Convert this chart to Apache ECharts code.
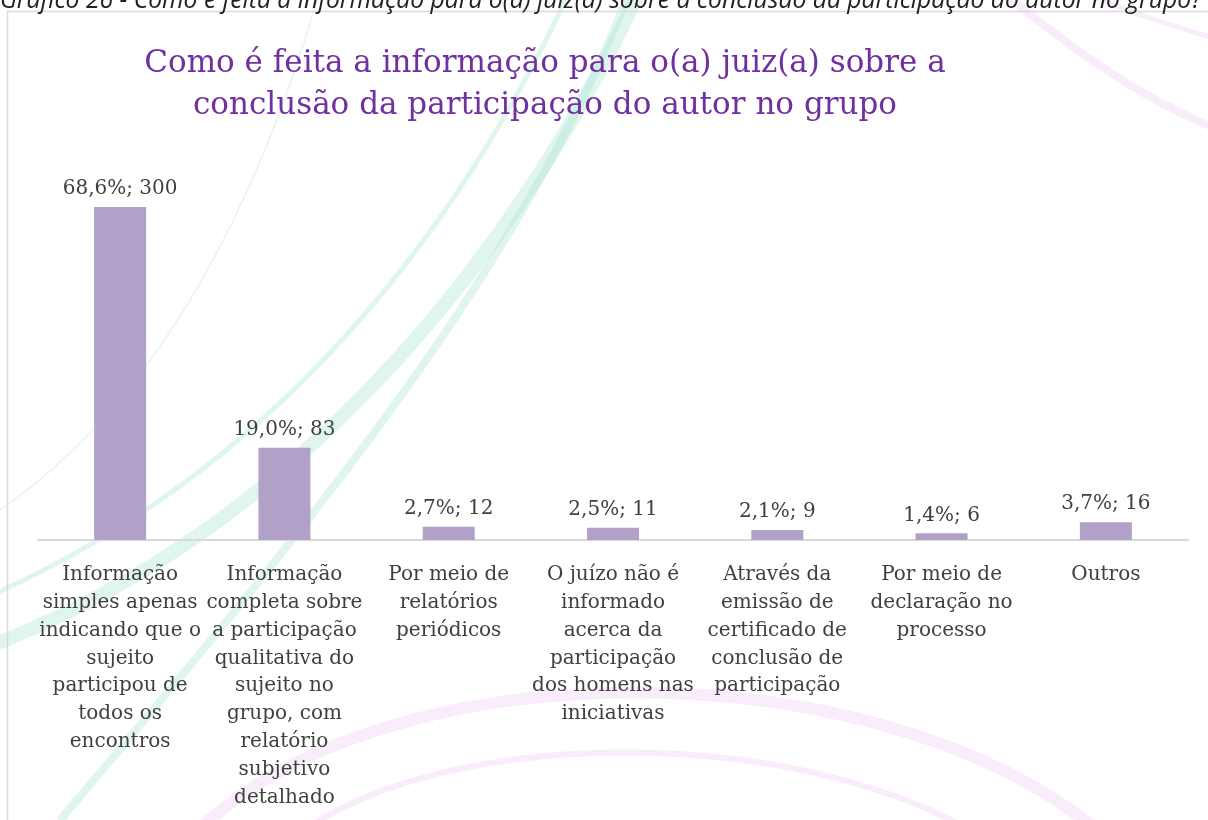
<!DOCTYPE html>
<html><head><meta charset="utf-8">
<script src="https://cdn.jsdelivr.net/npm/echarts@6/dist/echarts.min.js"></script>
<style>html,body{margin:0;padding:0;background:#fff}#c{width:1208px;height:820px}</style>
</head><body><div id="c"></div>
<script>
const categories = [
  "Informação\nsimples apenas\nindicando que o\nsujeito\nparticipou de\ntodos os\nencontros",
  "Informação\ncompleta sobre\na participação\nqualitativa do\nsujeito no\ngrupo, com\nrelatório\nsubjetivo\ndetalhado",
  "Por meio de\nrelatórios\nperiódicos",
  "O juízo não é\ninformado\nacerca da\nparticipação\ndos homens nas\niniciativas",
  "Através da\nemissão de\ncertificado de\nconclusão de\nparticipação",
  "Por meio de\ndeclaração no\nprocesso",
  "Outros"
];
const counts = [300, 83, 12, 11, 9, 6, 16];
const percents = ["68,6%", "19,0%", "2,7%", "2,5%", "2,1%", "1,4%", "3,7%"];
const titleText = "Como é feita a informação para o(a) juiz(a) sobre a\nconclusão da participação do autor no grupo";
const captionText = "Gráfico 26 - Como é feita a informação para o(a) juiz(a) sobre a conclusão da participação do autor no grupo?";

const chart = echarts.init(document.getElementById('c'));
const teal = 'rgba(170,225,210,0.35)';
const pink = 'rgba(230,180,240,0.25)';
chart.setOption({
  animation: false,
  backgroundColor: '#ffffff',
  graphic: [
    {type:'bezierCurve', z:-10, shape:{x1:-20,y1:650,x2:640,y2:-10,cpx1:300,cpy1:530,cpx2:520,cpy2:250}, style:{stroke:teal,lineWidth:14,fill:null}},
    {type:'bezierCurve', z:-10, shape:{x1:-20,y1:600,x2:570,y2:-10,cpx1:260,cpy1:480,cpx2:450,cpy2:250}, style:{stroke:teal,lineWidth:5,fill:null}},
    {type:'bezierCurve', z:-10, shape:{x1:60,y1:820,x2:630,y2:-10,cpx1:280,cpy1:560,cpx2:520,cpy2:280}, style:{stroke:teal,lineWidth:8,fill:null}},
    {type:'bezierCurve', z:-10, shape:{x1:0,y1:510,x2:320,y2:-10,cpx1:160,cpy1:400,cpx2:260,cpy2:200}, style:{stroke:'rgba(170,225,210,0.3)',lineWidth:1.5,fill:null}},
    {type:'bezierCurve', z:-10, shape:{x1:1000,y1:-10,x2:1220,y2:130,cpx1:1060,cpy1:40,cpx2:1140,cpy2:100}, style:{stroke:pink,lineWidth:8,fill:null}},
    {type:'bezierCurve', z:-10, shape:{x1:1080,y1:-10,x2:1220,y2:40,cpx1:1120,cpy1:10,cpx2:1170,cpy2:25}, style:{stroke:pink,lineWidth:5,fill:null}},
    {type:'bezierCurve', z:-10, shape:{x1:180,y1:850,x2:1120,y2:850,cpx1:360,cpy1:640,cpx2:900,cpy2:640}, style:{stroke:pink,lineWidth:12,fill:null}},
    {type:'bezierCurve', z:-10, shape:{x1:280,y1:850,x2:1000,y2:850,cpx1:420,cpy1:720,cpx2:820,cpy2:720}, style:{stroke:pink,lineWidth:6,fill:null}},
    {type:'rect', z:-5, shape:{x:7.5,y:11.5,width:1300,height:900}, style:{fill:null,stroke:'#d9d9d9',lineWidth:1.5}},
    {type:'text', left:0, top:-12, style:{text:captionText, font:'italic 24.7px "Open Sans", sans-serif', fill:'#222'}}
  ],
  title: {
    text: titleText,
    left: 540, top: 38, textAlign: 'center',
    textStyle: {fontFamily: '"DejaVu Serif", serif', fontSize: 31, fontWeight: 'normal', color: '#7030A0', lineHeight: 42}
  },
  grid: {left: 38, right: 20, top: 207, bottom: 280, containLabel: false},
  xAxis: {
    type: 'category', data: categories,
    axisLine: {lineStyle: {color: '#d9d9d9', width: 2}},
    axisTick: {show: false},
    axisLabel: {interval: 0, margin: 21, color: '#404040', fontFamily: '"DejaVu Serif", serif', fontSize: 20, lineHeight: 27.8}
  },
  yAxis: {type: 'value', min: 0, max: 300, show: false, splitLine: {show: false}},
  series: [{
    type: 'bar', data: counts, barWidth: 52,
    itemStyle: {color: '#B1A0C7'},
    label: {show: true, position: 'top', distance: 8, color: '#404040', fontFamily: '"DejaVu Serif", serif', fontSize: 20,
      formatter: p => percents[p.dataIndex] + '; ' + p.value}
  }]
});
</script></body></html>
